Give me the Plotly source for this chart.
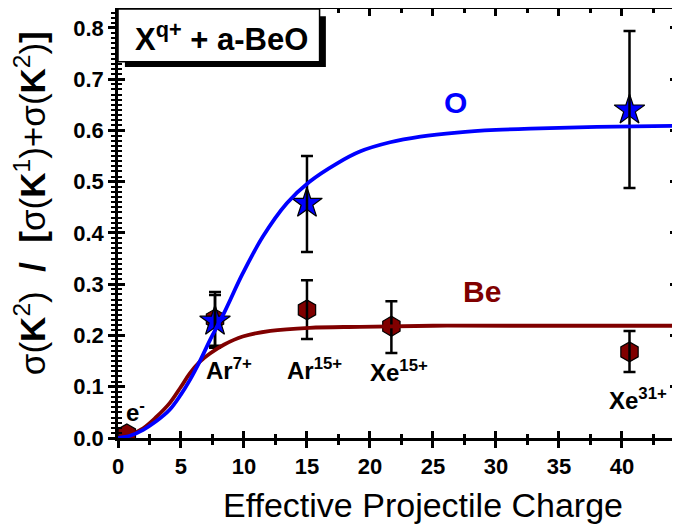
import plotly.graph_objects as go

# ---------------- data ----------------
o_x = [7.7, 15.0, 40.6]
o_y = [0.228, 0.458, 0.640]
o_err_up = [0.057, 0.092, 0.154]
o_err_dn = [0.048, 0.095, 0.152]

be_x = [0.7, 7.7, 15.0, 21.7, 40.6]
be_y = [0.008, 0.232, 0.250, 0.218, 0.168]
be_err_up = [0.0, 0.047, 0.058, 0.049, 0.041]
be_err_dn = [0.0, 0.056, 0.057, 0.052, 0.039]

# fitted curves
o_fit_x = [0, 1.0, 2.0, 3.0, 4.1, 5.0, 5.7, 6.5, 7.3, 8.4, 9.9, 11.5, 13.4, 15.2, 17.4, 19.2, 21.6, 24.0, 26.9, 30.0, 33.5, 38.0, 44.4]
o_fit_y = [0, 0.005, 0.016, 0.032, 0.055, 0.085, 0.113, 0.150, 0.191, 0.243, 0.321, 0.393, 0.458, 0.500, 0.536, 0.559, 0.577, 0.588, 0.596, 0.601, 0.604, 0.607, 0.609]

be_fit_x = [0, 1.0, 2.0, 3.0, 4.1, 5.0, 5.7, 6.5, 7.3, 8.4, 9.9, 12.1, 15.2, 19.2, 25.0, 32.0, 44.4]
be_fit_y = [0, 0.007, 0.019, 0.040, 0.068, 0.100, 0.126, 0.149, 0.165, 0.182, 0.198, 0.209, 0.215, 0.217, 0.219, 0.219, 0.219]

label_text = ["e<sup>-</sup>", "Ar<sup>7+</sup>", "Ar<sup>15+</sup>", "Xe<sup>15+</sup>", "Xe<sup>31+</sup>"]
label_x = [1.4, 8.8, 15.6, 22.3, 41.3]
label_y = [0.053, 0.135, 0.135, 0.131, 0.076]

BLUE = "#0000ff"
DRED = "#800000"
FONT = "Liberation Sans, Arial, sans-serif"

fig = go.Figure()

# markers
fig.add_trace(go.Scatter(x=be_x, y=be_y, mode="markers",
                         marker=dict(symbol="hexagon", size=20, color=DRED,
                                     line=dict(color="black", width=1.2)),
                         showlegend=False))
fig.add_trace(go.Scatter(x=o_x, y=o_y, mode="markers",
                         marker=dict(symbol="star", size=23, color=BLUE,
                                     line=dict(color="black", width=1.2)),
                         showlegend=False))
# error bars drawn on top of the markers
fig.add_trace(go.Scatter(x=be_x[1:], y=be_y[1:], mode="markers",
                         marker=dict(size=1, color="rgba(0,0,0,0)"),
                         error_y=dict(type="data", array=be_err_up[1:], arrayminus=be_err_dn[1:],
                                      color="black", thickness=2.5, width=6),
                         showlegend=False))
fig.add_trace(go.Scatter(x=o_x, y=o_y, mode="markers",
                         marker=dict(size=1, color="rgba(0,0,0,0)"),
                         error_y=dict(type="data", array=o_err_up, arrayminus=o_err_dn,
                                      color="black", thickness=2.5, width=6),
                         showlegend=False))
# curves
fig.add_trace(go.Scatter(x=be_fit_x, y=be_fit_y, mode="lines",
                         line=dict(color=DRED, width=3.8, shape="spline"),
                         showlegend=False))
fig.add_trace(go.Scatter(x=o_fit_x, y=o_fit_y, mode="lines",
                         line=dict(color=BLUE, width=3.8, shape="spline"),
                         showlegend=False))
# dummy trace for the overlay axes
fig.add_trace(go.Scatter(x=[None], y=[None], xaxis="x2", yaxis="y2", showlegend=False))

XR = [0, 44.37]
YR = [0, 0.837]

tickfont = dict(family=FONT, size=22, color="black", weight="bold")

# the page body has an 8 px margin, so the figure is sized/offset to compensate
fig.update_layout(
    width=672, height=517,
    margin=dict(l=110, r=3, t=1, b=87),
    paper_bgcolor="white", plot_bgcolor="white",
    xaxis=dict(range=XR, tick0=0, dtick=5, ticks="outside", ticklen=7, tickwidth=2.5,
               tickcolor="black", showline=True, linecolor="black", linewidth=2.5,
               mirror=True, showgrid=False, zeroline=False, tickfont=tickfont,
               automargin=False,
               minor=dict(dtick=2.5, tick0=0, ticks="outside", ticklen=4, tickwidth=2.5,
                          tickcolor="black", showgrid=False)),
    yaxis=dict(range=YR, tick0=0, dtick=0.1, tickformat=".1f", ticks="outside", ticklen=7,
               tickwidth=2.5, tickcolor="black", showline=True, linecolor="black",
               linewidth=2.5, mirror=True, showgrid=False, zeroline=False, tickfont=tickfont,
               automargin=False,
               minor=dict(dtick=0.01, tick0=0, ticks="outside", ticklen=4, tickwidth=2,
                          tickcolor="black", showgrid=False)),
    xaxis2=dict(range=XR, overlaying="x", anchor="y2", side="bottom", tick0=0, dtick=5,
                ticks="inside", ticklen=7, tickwidth=2.5, tickcolor="black",
                showticklabels=False, showline=False, mirror="allticks", showgrid=False,
                zeroline=False, automargin=False,
                minor=dict(dtick=2.5, tick0=0, ticks="inside", ticklen=4, tickwidth=2.5,
                           tickcolor="black", showgrid=False)),
    yaxis2=dict(range=YR, overlaying="y", anchor="x2", side="left", tick0=0, dtick=0.1,
                ticks="inside", ticklen=7, tickwidth=2.5, tickcolor="black",
                showticklabels=False, showline=False, mirror="allticks", showgrid=False,
                zeroline=False, automargin=False,
                minor=dict(dtick=0.01, tick0=0, ticks="inside", ticklen=4, tickwidth=2,
                           tickcolor="black", showgrid=False)),
)

# axis titles
fig.add_annotation(x=0.545, y=-0.156, xref="paper", yref="paper", showarrow=False,
                   xanchor="center", yanchor="middle",
                   text="Effective Projectile Charge",
                   font=dict(family=FONT, size=34, color="black"))
fig.add_annotation(x=-0.157, y=0.548, xref="paper", yref="paper", showarrow=False,
                   xanchor="center", yanchor="middle", textangle=-90,
                   text="σ(<b>K</b><sup>2</sup>)\u00a0 <b>/</b> \u00a0<b>[</b>σ(<b>K</b><sup>1</sup>)+σ(<b>K</b><sup>2</sup>)<b>]</b>",
                   font=dict(family=FONT, size=35, color="black"))

# title box with shadow
fig.add_shape(type="rect", xref="x", yref="y", x0=0.55, x1=16.5, y0=0.724, y1=0.823,
              fillcolor="black", line=dict(width=0), layer="above")
fig.add_shape(type="rect", xref="x", yref="y", x0=0.0, x1=16.0, y0=0.734, y1=0.837,
              fillcolor="white", line=dict(color="black", width=1.5), layer="above")
fig.add_annotation(x=8.2, y=0.783, xref="x", yref="y", showarrow=False,
                   text="<b>X<sup>q+</sup> + a-BeO</b>",
                   font=dict(family=FONT, size=31, color="black"))

fig.add_annotation(x=26.8, y=0.654, xref="x", yref="y", showarrow=False,
                   text="<b>O</b>", font=dict(family=FONT, size=30, color=BLUE))
fig.add_annotation(x=28.9, y=0.285, xref="x", yref="y", showarrow=False,
                   text="<b>Be</b>", font=dict(family=FONT, size=30, color=DRED))

for t, lx, ly in zip(label_text, label_x, label_y):
    fig.add_annotation(x=lx, y=ly, xref="x", yref="y", showarrow=False,
                       text="<b>" + t + "</b>",
                       font=dict(family=FONT, size=24, color="black"))

fig.write_html("out.html")
